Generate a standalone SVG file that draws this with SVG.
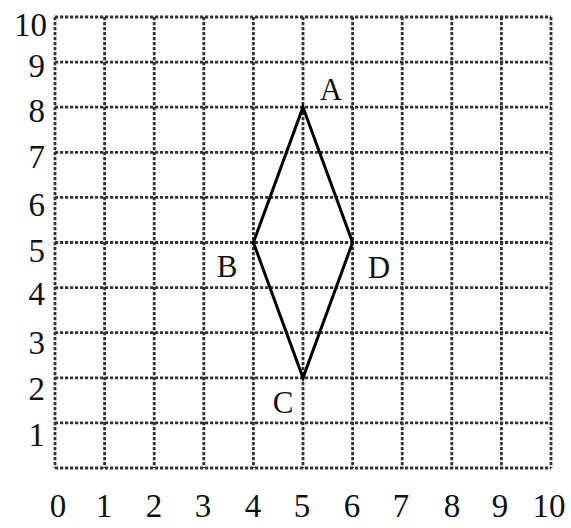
<svg xmlns="http://www.w3.org/2000/svg" width="571" height="528" viewBox="0 0 571 528">
<style>
.g{stroke:#333;stroke-width:2.8;stroke-dasharray:3.2 1.8;fill:none}
.n{font-family:"Liberation Serif",serif;font-size:33px;fill:#111}
.l{font-family:"Liberation Serif",serif;font-size:31px;fill:#111;text-anchor:middle}
</style>
<rect width="571" height="528" fill="#fff"/>
<g id="grid">
<path class="g" d="M55 17V468M104.6 17V468M154.2 17V468M203.8 17V468M253.4 17V468M303 17V468M352.6 17V468M402.2 17V468M451.8 17V468M501.4 17V468M551 17V468"/>
<path class="g" d="M55 17H551M55 62.1H551M55 107.2H551M55 152.3H551M55 197.4H551M55 242.5H551M55 287.6H551M55 332.7H551M55 377.8H551M55 422.9H551M55 468H551"/>
</g>
<g id="y-labels" class="n" text-anchor="end">
<text x="47" y="36">10</text>
<text x="45" y="77">9</text>
<text x="45" y="122">8</text>
<text x="45" y="168">7</text>
<text x="45" y="216">6</text>
<text x="45" y="262">5</text>
<text x="45" y="305">4</text>
<text x="45" y="354">3</text>
<text x="45" y="400">2</text>
<text x="45" y="446">1</text>
</g>
<g id="x-labels" class="n" text-anchor="middle">
<text x="58" y="517">0</text>
<text x="104" y="517">1</text>
<text x="154" y="517">2</text>
<text x="203" y="517">3</text>
<text x="253" y="517">4</text>
<text x="302" y="517">5</text>
<text x="352" y="517">6</text>
<text x="401" y="517">7</text>
<text x="452" y="517">8</text>
<text x="500" y="517">9</text>
<text x="549" y="517">10</text>
</g>
<g id="connectors">
<polygon points="303,107.2 352.6,242.5 303,377.8 253.4,242.5" fill="none" stroke="#000" stroke-width="3" stroke-linejoin="miter"/>
</g>
<g id="A"><text class="l" x="331" y="100">A</text></g>
<g id="B"><text class="l" x="227" y="277">B</text></g>
<g id="C"><text class="l" x="283" y="413">C</text></g>
<g id="D"><text class="l" x="379" y="278">D</text></g>
</svg>
